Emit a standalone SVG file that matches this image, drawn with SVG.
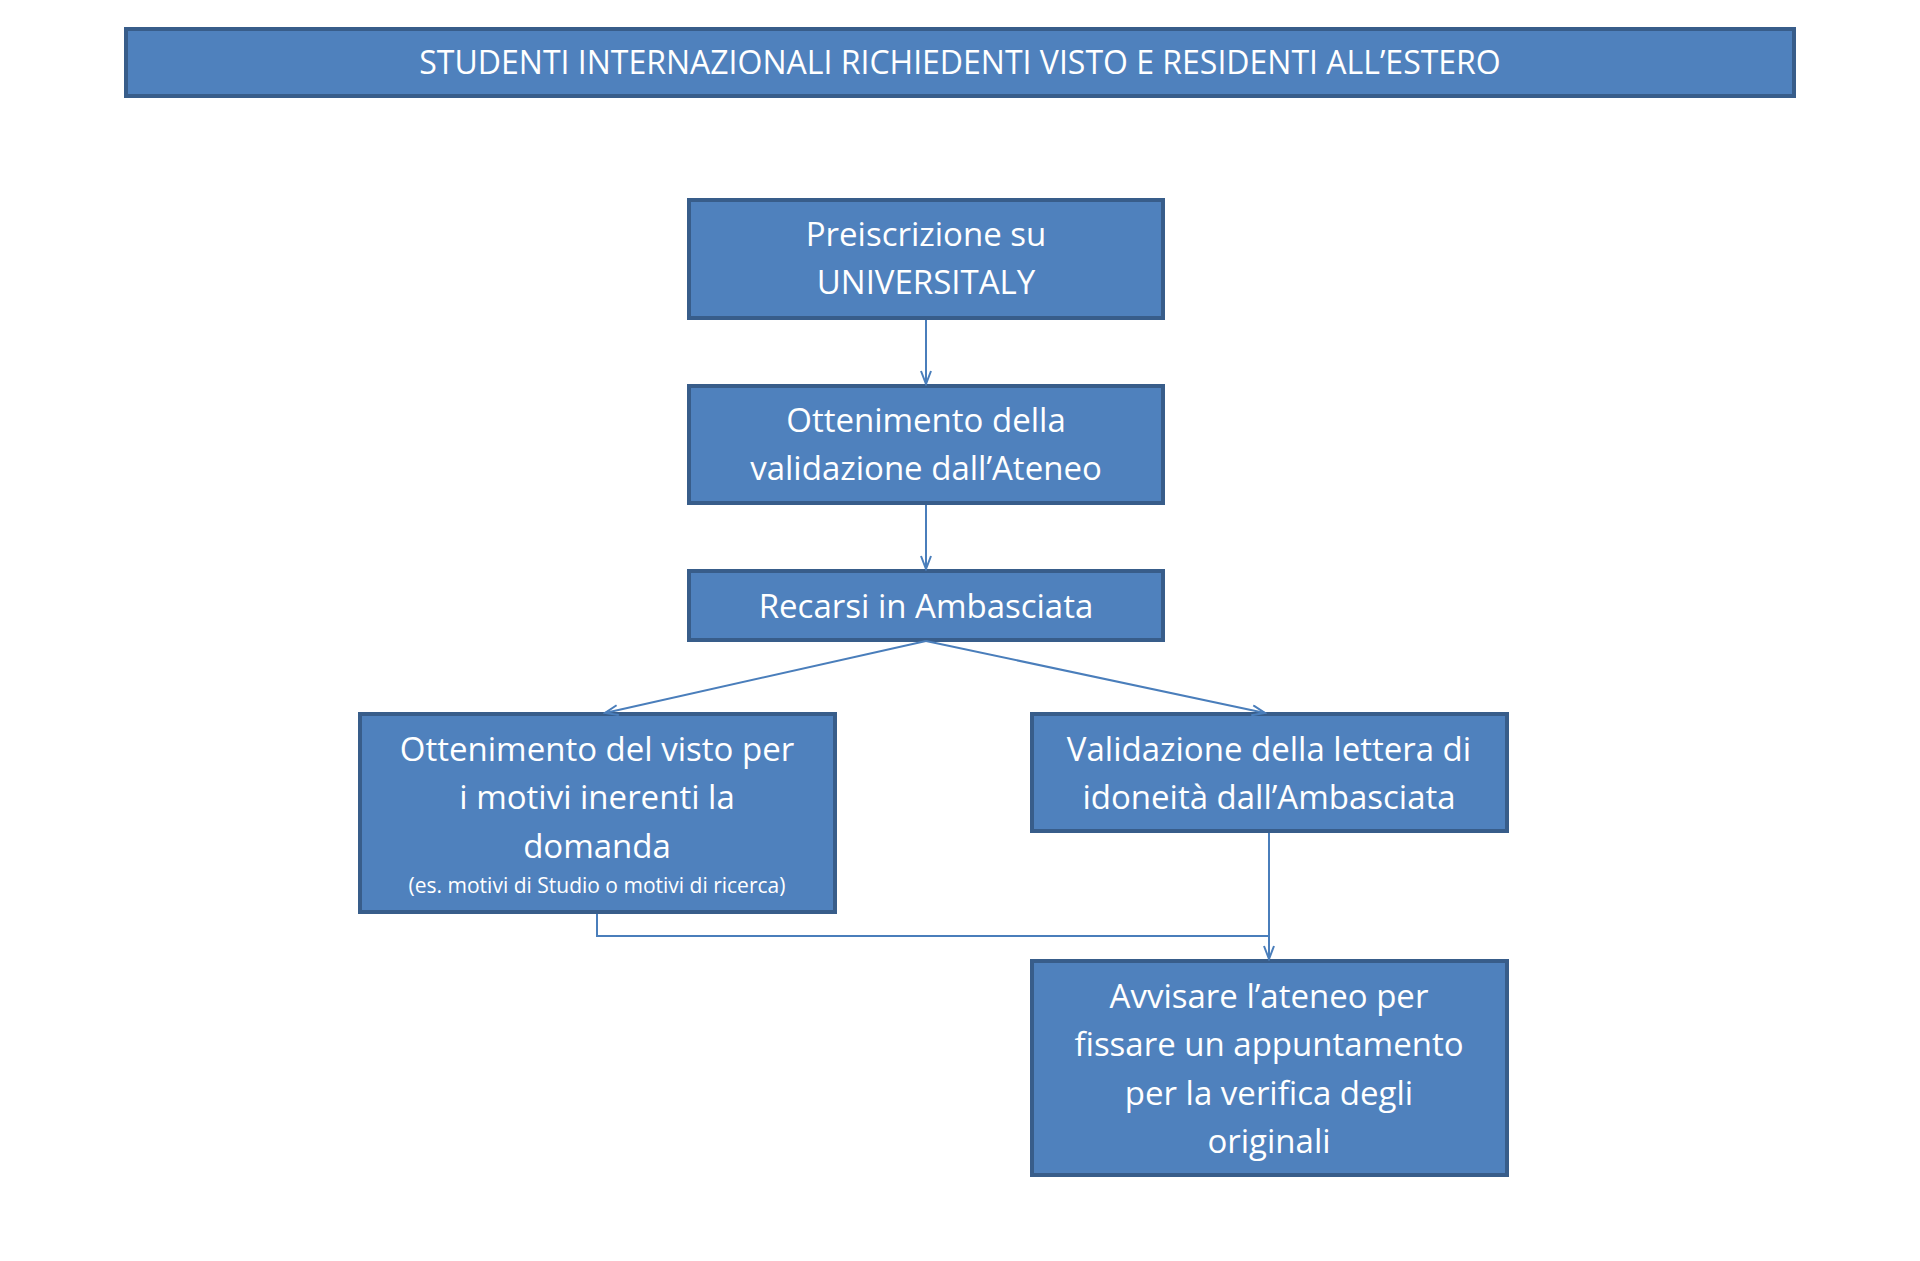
<svg xmlns="http://www.w3.org/2000/svg" width="1920" height="1261" viewBox="0 0 1920 1261">
<style>
.b{fill:#4f81bd;stroke:#385d8a;stroke-width:4}
.t{fill:#fff;font-family:"Open Sans","Liberation Sans",sans-serif;font-size:33px;text-anchor:middle}
.s{font-size:21px}
.c{fill:none;stroke:#4a7ebb;stroke-width:2}
</style>
<defs><marker id="a" markerWidth="16" markerHeight="12" refX="14" refY="6" orient="auto" markerUnits="userSpaceOnUse"><path d="M1,1 L14,6 L1,11" fill="none" stroke="#4a7ebb" stroke-width="2"/></marker></defs>
<rect width="1920" height="1261" fill="#fff"/>
<g id="title"><rect class="b" x="126" y="29" width="1668" height="67"/><text class="t" x="960" y="74" style="font-size:32px">STUDENTI INTERNAZIONALI RICHIEDENTI VISTO E RESIDENTI ALL’ESTERO</text></g>
<g id="n1"><rect class="b" x="689" y="200" width="474" height="118"/><text class="t" x="926" y="246">Preiscrizione su</text><text class="t" x="926" y="294">UNIVERSITALY</text></g>
<g id="n2"><rect class="b" x="689" y="386" width="474" height="117"/><text class="t" x="926" y="432">Ottenimento della</text><text class="t" x="926" y="480">validazione dall’Ateneo</text></g>
<g id="n3"><rect class="b" x="689" y="571" width="474" height="69"/><text class="t" x="926" y="618">Recarsi in Ambasciata</text></g>
<g id="n4"><rect class="b" x="360" y="714" width="475" height="198"/><text class="t" x="597" y="761">Ottenimento del visto per</text><text class="t" x="597" y="809">i motivi inerenti la</text><text class="t" x="597" y="858">domanda</text><text class="t s" x="597" y="893">(es. motivi di Studio o motivi di ricerca)</text></g>
<g id="n5"><rect class="b" x="1032" y="714" width="475" height="117"/><text class="t" x="1269" y="761">Validazione della lettera di</text><text class="t" x="1269" y="809">idoneità dall’Ambasciata</text></g>
<g id="n6"><rect class="b" x="1032" y="961" width="475" height="214"/><text class="t" x="1269" y="1008">Avvisare l’ateneo per</text><text class="t" x="1269" y="1056">fissare un appuntamento</text><text class="t" x="1269" y="1105">per la verifica degli</text><text class="t" x="1269" y="1153">originali</text></g>
<g id="connectors">
<path class="c" d="M926,320 V384" marker-end="url(#a)"/>
<path class="c" d="M926,505 V569" marker-end="url(#a)"/>
<path class="c" d="M926,641 L605,713" marker-end="url(#a)"/>
<path class="c" d="M926,641 L1265,713" marker-end="url(#a)"/>
<path class="c" d="M597,914 V936 H1269"/>
<path class="c" d="M1269,833 V959" marker-end="url(#a)"/>
</g>
</svg>
